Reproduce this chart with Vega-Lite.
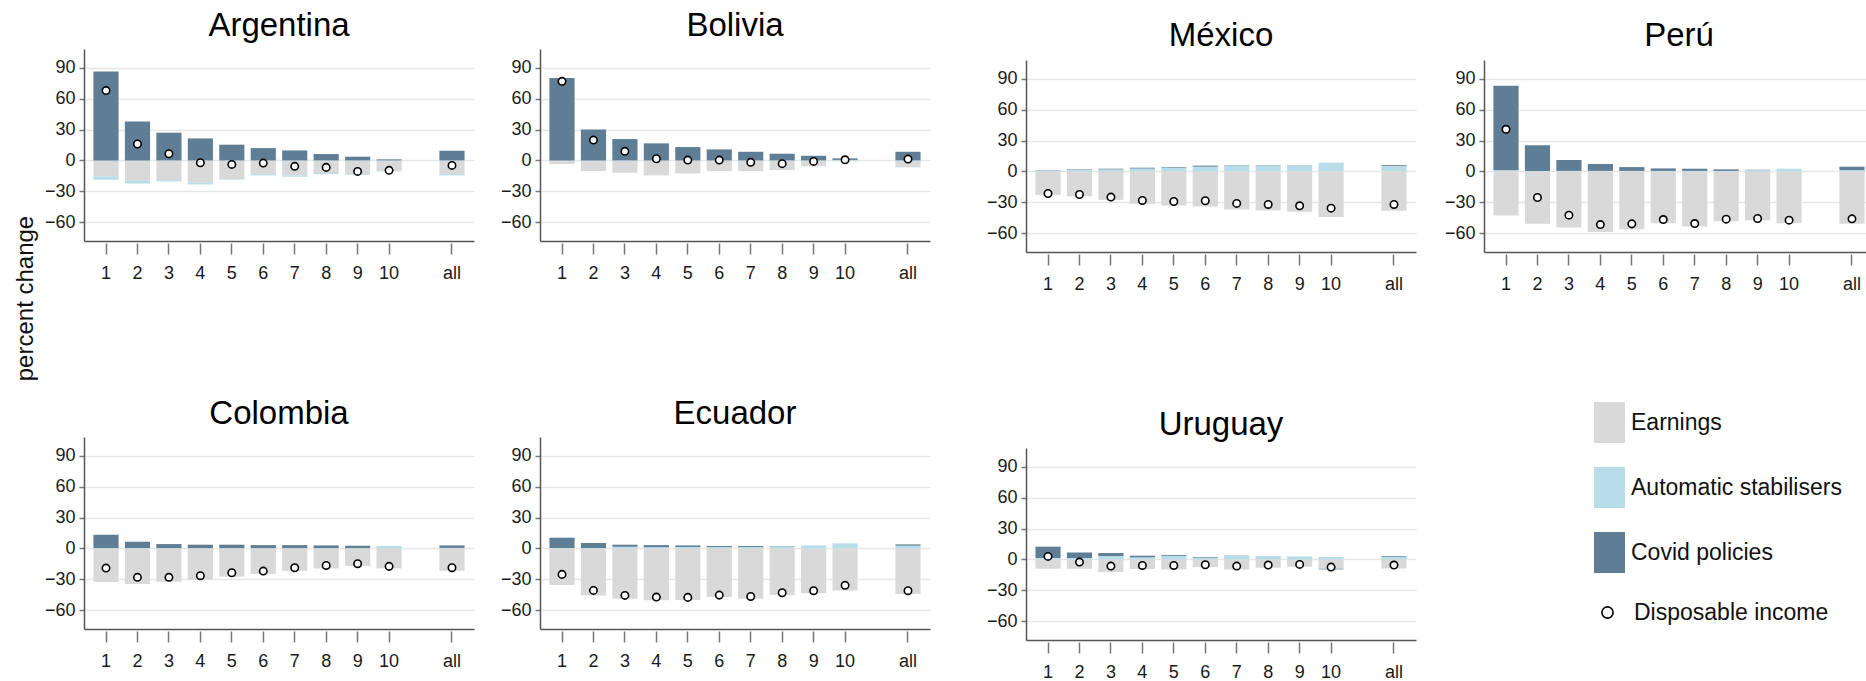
{
  "$schema": "https://vega.github.io/schema/vega-lite/v6.json",
  "padding": {"left": 14, "top": 10, "right": 0, "bottom": 0},
  "background": "white",
  "title": {"text": "percent change", "orient": "left", "anchor": "middle", "frame": "bounds", "fontSize": 24, "offset": 6, "dx": 47, "color": "#111"},
  "data": {"values": [
    {"country":"Argentina","decile":"1","earnings":-15.6,"stabilisers":-3.2,"stimulus":86.7,"income":68},
    {"country":"Argentina","decile":"2","earnings":-19.8,"stabilisers":-2.6,"stimulus":38,"income":16},
    {"country":"Argentina","decile":"3","earnings":-19.2,"stabilisers":-1.3,"stimulus":27,"income":6.5},
    {"country":"Argentina","decile":"4","earnings":-21.4,"stabilisers":-2,"stimulus":21.4,"income":-2.3},
    {"country":"Argentina","decile":"5","earnings":-18.2,"stabilisers":-0.6,"stimulus":15.3,"income":-3.9},
    {"country":"Argentina","decile":"6","earnings":-13.3,"stabilisers":-1.3,"stimulus":12,"income":-2.6},
    {"country":"Argentina","decile":"7","earnings":-14.6,"stabilisers":-1.3,"stimulus":9.7,"income":-5.8},
    {"country":"Argentina","decile":"8","earnings":-12.3,"stabilisers":-1,"stimulus":6.2,"income":-6.8},
    {"country":"Argentina","decile":"9","earnings":-13.3,"stabilisers":-0.7,"stimulus":3.6,"income":-10.7},
    {"country":"Argentina","decile":"10","earnings":-10.4,"stabilisers":-0.3,"stimulus":1,"income":-9.7},
    {"country":"Argentina","decile":"all","earnings":-13.3,"stabilisers":-1.3,"stimulus":9.4,"income":-4.9},
    {"country":"Bolivia","decile":"1","earnings":-3.6,"stabilisers":0,"stimulus":80.2,"income":77},
    {"country":"Bolivia","decile":"2","earnings":-10.4,"stabilisers":0,"stimulus":30.2,"income":19.8},
    {"country":"Bolivia","decile":"3","earnings":-12,"stabilisers":0,"stimulus":20.8,"income":8.8},
    {"country":"Bolivia","decile":"4","earnings":-14.6,"stabilisers":0,"stimulus":16.6,"income":1.6},
    {"country":"Bolivia","decile":"5","earnings":-12.7,"stabilisers":0,"stimulus":13,"income":0.3},
    {"country":"Bolivia","decile":"6","earnings":-10.4,"stabilisers":0,"stimulus":10.7,"income":0.3},
    {"country":"Bolivia","decile":"7","earnings":-10.4,"stabilisers":0,"stimulus":8.4,"income":-1.9},
    {"country":"Bolivia","decile":"8","earnings":-9.4,"stabilisers":0,"stimulus":6.5,"income":-3.2},
    {"country":"Bolivia","decile":"9","earnings":-5.8,"stabilisers":0,"stimulus":4.5,"income":-1},
    {"country":"Bolivia","decile":"10","earnings":-0.8,"stabilisers":0.5,"stimulus":1.5,"income":0.6},
    {"country":"Bolivia","decile":"all","earnings":-6.8,"stabilisers":0,"stimulus":8.4,"income":1.3},
    {"country":"México","decile":"1","earnings":-22.8,"stabilisers":1.0,"stimulus":0.3,"income":-21.5},
    {"country":"México","decile":"2","earnings":-24.1,"stabilisers":1.3,"stimulus":0.5,"income":-22.5},
    {"country":"México","decile":"3","earnings":-27.7,"stabilisers":2,"stimulus":0.6,"income":-25},
    {"country":"México","decile":"4","earnings":-31.6,"stabilisers":2.8,"stimulus":0.8,"income":-28.3},
    {"country":"México","decile":"5","earnings":-33.2,"stabilisers":3.6,"stimulus":0.6,"income":-29.3},
    {"country":"México","decile":"6","earnings":-34.2,"stabilisers":4.6,"stimulus":1,"income":-28.6},
    {"country":"México","decile":"7","earnings":-37.1,"stabilisers":5.5,"stimulus":0.4,"income":-31.2},
    {"country":"México","decile":"8","earnings":-38.1,"stabilisers":5.5,"stimulus":0.4,"income":-32.2},
    {"country":"México","decile":"9","earnings":-39.4,"stabilisers":5.6,"stimulus":0.3,"income":-33.5},
    {"country":"México","decile":"10","earnings":-44.3,"stabilisers":8.5,"stimulus":0,"income":-35.8},
    {"country":"México","decile":"all","earnings":-38.4,"stabilisers":5.4,"stimulus":0.8,"income":-32.2},
    {"country":"Perú","decile":"1","earnings":-43,"stabilisers":1,"stimulus":82.3,"income":41},
    {"country":"Perú","decile":"2","earnings":-51.1,"stabilisers":0.5,"stimulus":24.9,"income":-25.4},
    {"country":"Perú","decile":"3","earnings":-54.7,"stabilisers":0.5,"stimulus":10.6,"income":-42.6},
    {"country":"Perú","decile":"4","earnings":-58.9,"stabilisers":0.5,"stimulus":6.7,"income":-51.8},
    {"country":"Perú","decile":"5","earnings":-56.3,"stabilisers":0.5,"stimulus":3.7,"income":-51.1},
    {"country":"Perú","decile":"6","earnings":-50.5,"stabilisers":0.5,"stimulus":2.4,"income":-46.9},
    {"country":"Perú","decile":"7","earnings":-53.7,"stabilisers":0.5,"stimulus":2.1,"income":-50.8},
    {"country":"Perú","decile":"8","earnings":-48.5,"stabilisers":0.5,"stimulus":1.5,"income":-46.5},
    {"country":"Perú","decile":"9","earnings":-47.5,"stabilisers":1.3,"stimulus":0.3,"income":-45.9},
    {"country":"Perú","decile":"10","earnings":-50.5,"stabilisers":2.6,"stimulus":0,"income":-47.5},
    {"country":"Perú","decile":"all","earnings":-51.1,"stabilisers":1.3,"stimulus":3.3,"income":-46.2},
    {"country":"Colombia","decile":"1","earnings":-32.8,"stabilisers":0.3,"stimulus":13,"income":-19.2},
    {"country":"Colombia","decile":"2","earnings":-34.7,"stabilisers":0.3,"stimulus":6.2,"income":-28.2},
    {"country":"Colombia","decile":"3","earnings":-32.5,"stabilisers":0.3,"stimulus":3.9,"income":-28.2},
    {"country":"Colombia","decile":"4","earnings":-30.5,"stabilisers":0.3,"stimulus":3.3,"income":-26.6},
    {"country":"Colombia","decile":"5","earnings":-27.6,"stabilisers":0.3,"stimulus":3.3,"income":-23.7},
    {"country":"Colombia","decile":"6","earnings":-25,"stabilisers":0.3,"stimulus":2.9,"income":-22.1},
    {"country":"Colombia","decile":"7","earnings":-21.8,"stabilisers":0.3,"stimulus":2.9,"income":-18.8},
    {"country":"Colombia","decile":"8","earnings":-19.5,"stabilisers":0.3,"stimulus":2.6,"income":-16.6},
    {"country":"Colombia","decile":"9","earnings":-17.2,"stabilisers":0.3,"stimulus":2.3,"income":-14.9},
    {"country":"Colombia","decile":"10","earnings":-19.5,"stabilisers":2.3,"stimulus":0,"income":-17.5},
    {"country":"Colombia","decile":"all","earnings":-21.8,"stabilisers":0.5,"stimulus":2.4,"income":-18.8},
    {"country":"Ecuador","decile":"1","earnings":-35.7,"stabilisers":0.4,"stimulus":10,"income":-25.3},
    {"country":"Ecuador","decile":"2","earnings":-45.8,"stabilisers":0.4,"stimulus":4.8,"income":-40.9},
    {"country":"Ecuador","decile":"3","earnings":-49,"stabilisers":1.6,"stimulus":2,"income":-45.8},
    {"country":"Ecuador","decile":"4","earnings":-50.6,"stabilisers":1.2,"stimulus":2,"income":-47.4},
    {"country":"Ecuador","decile":"5","earnings":-50.3,"stabilisers":1.4,"stimulus":1.5,"income":-47.7},
    {"country":"Ecuador","decile":"6","earnings":-47.4,"stabilisers":1.3,"stimulus":1,"income":-45.5},
    {"country":"Ecuador","decile":"7","earnings":-49,"stabilisers":1.3,"stimulus":1,"income":-46.8},
    {"country":"Ecuador","decile":"8","earnings":-45.5,"stabilisers":2,"stimulus":0.3,"income":-43.2},
    {"country":"Ecuador","decile":"9","earnings":-43.8,"stabilisers":2.9,"stimulus":0,"income":-41.2},
    {"country":"Ecuador","decile":"10","earnings":-40.9,"stabilisers":4.9,"stimulus":0,"income":-36},
    {"country":"Ecuador","decile":"all","earnings":-44.5,"stabilisers":2.6,"stimulus":1.3,"income":-41.2},
    {"country":"Uruguay","decile":"1","earnings":-9.1,"stabilisers":1.4,"stimulus":11,"income":2.9},
    {"country":"Uruguay","decile":"2","earnings":-9.1,"stabilisers":1.3,"stimulus":5.5,"income":-2.6},
    {"country":"Uruguay","decile":"3","earnings":-12.4,"stabilisers":3.2,"stimulus":3,"income":-6.5},
    {"country":"Uruguay","decile":"4","earnings":-9.4,"stabilisers":2,"stimulus":1.6,"income":-5.9},
    {"country":"Uruguay","decile":"5","earnings":-9.8,"stabilisers":3.4,"stimulus":0.8,"income":-5.9},
    {"country":"Uruguay","decile":"6","earnings":-7.5,"stabilisers":1.7,"stimulus":0.6,"income":-5.2},
    {"country":"Uruguay","decile":"7","earnings":-9.8,"stabilisers":3.3,"stimulus":0.3,"income":-6.5},
    {"country":"Uruguay","decile":"8","earnings":-8.1,"stabilisers":3.3,"stimulus":0,"income":-5.5},
    {"country":"Uruguay","decile":"9","earnings":-7.2,"stabilisers":2.9,"stimulus":0,"income":-4.9},
    {"country":"Uruguay","decile":"10","earnings":-9.1,"stabilisers":2.3,"stimulus":-0.6,"income":-7.5},
    {"country":"Uruguay","decile":"all","earnings":-8.8,"stabilisers":2.6,"stimulus":0.7,"income":-5.5}
  ]},
  "spacing": 56,
  "hconcat": [
    {"spacing": 26, "hconcat": [
      {"spacing": 116, "vconcat": [
        {"title": "Argentina", "width": 390, "height": 192,
         "transform": [{"filter": "datum.country === 'Argentina'"}],
         "layer": [
          {"transform": [{"fold": ["earnings","stabilisers","stimulus"], "as": ["component","value"]}],
           "mark": {"type": "bar"},
           "encoding": {
            "x": {"field":"decile","type":"nominal","title":null,"scale":{"domain":["1","2","3","4","5","6","7","8","9","10","gap","all"],"paddingInner":0.2,"paddingOuter":0.3},"axis":{"values":["1","2","3","4","5","6","7","8","9","10","all"]}},
            "y": {"field":"value","type":"quantitative","title":null,"stack":"zero","scale":{"domain":[-78.5,108.5],"nice":false,"zero":false},"axis":{"values":[-60,-30,0,30,60,90]}},
            "fill": {"field":"component","type":"nominal","scale":{"domain":["earnings","stabilisers","stimulus"],"range":["#d9d9d9","#b8dde8","#5f7e95"]},
              "legend": {"orient":"none","legendX":1505,"legendY":353,"title":null,"symbolType":"M-0.756,-1H0.756V1H-0.756Z","symbolSize":1681,"symbolStrokeWidth":0,"labelFontSize":23,"labelOffset":1,"rowPadding":24,"labelLimit":400,"labelColor":"#111",
                "labelExpr":"datum.label == 'earnings' ? 'Earnings' : datum.label == 'stabilisers' ? 'Automatic stabilisers' : 'Covid policies'"}},
            "order": {"field":"component","type":"ordinal","sort":"ascending"}
           }},
          {"mark": {"type":"circle","fill":"white","size":55,"strokeWidth":1.6,"opacity":1},
           "encoding": {
            "x": {"field":"decile","type":"nominal","title":null,"scale":{"domain":["1","2","3","4","5","6","7","8","9","10","gap","all"],"paddingInner":0.2,"paddingOuter":0.3},"axis":{"values":["1","2","3","4","5","6","7","8","9","10","all"]}},
            "y": {"field":"income","type":"quantitative","title":null,"scale":{"domain":[-78.5,108.5],"nice":false,"zero":false},"axis":{"values":[-60,-30,0,30,60,90]}},
            "stroke": {"datum":"Disposable income","scale":{"range":["black"]},
              "legend": {"orient":"none","legendX":1512,"legendY":552,"title":null,"symbolType":"circle","symbolSize":125,"symbolStrokeWidth":1.6,"symbolFillColor":"white","labelFontSize":23,"labelOffset":15,"labelLimit":400,"labelColor":"#111"}}
           }}
         ]},
        {"title": "Colombia", "width": 390, "height": 192,
         "transform": [{"filter": "datum.country === 'Colombia'"}],
         "layer": [
          {"transform": [{"fold": ["earnings","stabilisers","stimulus"], "as": ["component","value"]}],
           "mark": {"type": "bar"},
           "encoding": {
            "x": {"field":"decile","type":"nominal","title":null,"scale":{"domain":["1","2","3","4","5","6","7","8","9","10","gap","all"],"paddingInner":0.2,"paddingOuter":0.3},"axis":{"values":["1","2","3","4","5","6","7","8","9","10","all"]}},
            "y": {"field":"value","type":"quantitative","title":null,"stack":"zero","scale":{"domain":[-78.5,108.5],"nice":false,"zero":false},"axis":{"values":[-60,-30,0,30,60,90]}},
            "fill": {"field":"component","type":"nominal","scale":{"domain":["earnings","stabilisers","stimulus"],"range":["#d9d9d9","#b8dde8","#5f7e95"]}},
            "order": {"field":"component","type":"ordinal","sort":"ascending"}
           }},
          {"mark": {"type":"circle","fill":"white","size":55,"strokeWidth":1.6,"opacity":1},
           "encoding": {
            "x": {"field":"decile","type":"nominal","title":null,"scale":{"domain":["1","2","3","4","5","6","7","8","9","10","gap","all"],"paddingInner":0.2,"paddingOuter":0.3},"axis":{"values":["1","2","3","4","5","6","7","8","9","10","all"]}},
            "y": {"field":"income","type":"quantitative","title":null,"scale":{"domain":[-78.5,108.5],"nice":false,"zero":false},"axis":{"values":[-60,-30,0,30,60,90]}},
            "stroke": {"datum":"Disposable income","scale":{"range":["black"]}}
           }}
         ]}
      ]},
      {"spacing": 116, "vconcat": [
        {"title": "Bolivia", "width": 390, "height": 192,
         "transform": [{"filter": "datum.country === 'Bolivia'"}],
         "layer": [
          {"transform": [{"fold": ["earnings","stabilisers","stimulus"], "as": ["component","value"]}],
           "mark": {"type": "bar"},
           "encoding": {
            "x": {"field":"decile","type":"nominal","title":null,"scale":{"domain":["1","2","3","4","5","6","7","8","9","10","gap","all"],"paddingInner":0.2,"paddingOuter":0.3},"axis":{"values":["1","2","3","4","5","6","7","8","9","10","all"]}},
            "y": {"field":"value","type":"quantitative","title":null,"stack":"zero","scale":{"domain":[-78.5,108.5],"nice":false,"zero":false},"axis":{"values":[-60,-30,0,30,60,90]}},
            "fill": {"field":"component","type":"nominal","scale":{"domain":["earnings","stabilisers","stimulus"],"range":["#d9d9d9","#b8dde8","#5f7e95"]}},
            "order": {"field":"component","type":"ordinal","sort":"ascending"}
           }},
          {"mark": {"type":"circle","fill":"white","size":55,"strokeWidth":1.6,"opacity":1},
           "encoding": {
            "x": {"field":"decile","type":"nominal","title":null,"scale":{"domain":["1","2","3","4","5","6","7","8","9","10","gap","all"],"paddingInner":0.2,"paddingOuter":0.3},"axis":{"values":["1","2","3","4","5","6","7","8","9","10","all"]}},
            "y": {"field":"income","type":"quantitative","title":null,"scale":{"domain":[-78.5,108.5],"nice":false,"zero":false},"axis":{"values":[-60,-30,0,30,60,90]}},
            "stroke": {"datum":"Disposable income","scale":{"range":["black"]}}
           }}
         ]},
        {"title": "Ecuador", "width": 390, "height": 192,
         "transform": [{"filter": "datum.country === 'Ecuador'"}],
         "layer": [
          {"transform": [{"fold": ["earnings","stabilisers","stimulus"], "as": ["component","value"]}],
           "mark": {"type": "bar"},
           "encoding": {
            "x": {"field":"decile","type":"nominal","title":null,"scale":{"domain":["1","2","3","4","5","6","7","8","9","10","gap","all"],"paddingInner":0.2,"paddingOuter":0.3},"axis":{"values":["1","2","3","4","5","6","7","8","9","10","all"]}},
            "y": {"field":"value","type":"quantitative","title":null,"stack":"zero","scale":{"domain":[-78.5,108.5],"nice":false,"zero":false},"axis":{"values":[-60,-30,0,30,60,90]}},
            "fill": {"field":"component","type":"nominal","scale":{"domain":["earnings","stabilisers","stimulus"],"range":["#d9d9d9","#b8dde8","#5f7e95"]}},
            "order": {"field":"component","type":"ordinal","sort":"ascending"}
           }},
          {"mark": {"type":"circle","fill":"white","size":55,"strokeWidth":1.6,"opacity":1},
           "encoding": {
            "x": {"field":"decile","type":"nominal","title":null,"scale":{"domain":["1","2","3","4","5","6","7","8","9","10","gap","all"],"paddingInner":0.2,"paddingOuter":0.3},"axis":{"values":["1","2","3","4","5","6","7","8","9","10","all"]}},
            "y": {"field":"income","type":"quantitative","title":null,"scale":{"domain":[-78.5,108.5],"nice":false,"zero":false},"axis":{"values":[-60,-30,0,30,60,90]}},
            "stroke": {"datum":"Disposable income","scale":{"range":["black"]}}
           }}
         ]}
      ]}
    ]},
    {"spacing": 28, "hconcat": [
      {"spacing": 116, "vconcat": [
        {"spacing": 0, "vconcat": [
          {"width": 390, "height": 11, "data": {"values": []}, "mark": "point", "encoding": {}, "title": {"text": "México", "offset": -4}},
          {"width": 390, "height": 192,
           "transform": [{"filter": "datum.country === 'México'"}],
           "layer": [
            {"transform": [{"fold": ["earnings","stabilisers","stimulus"], "as": ["component","value"]}],
             "mark": {"type": "bar"},
             "encoding": {
              "x": {"field":"decile","type":"nominal","title":null,"scale":{"domain":["1","2","3","4","5","6","7","8","9","10","gap","all"],"paddingInner":0.2,"paddingOuter":0.3},"axis":{"values":["1","2","3","4","5","6","7","8","9","10","all"]}},
              "y": {"field":"value","type":"quantitative","title":null,"stack":"zero","scale":{"domain":[-78.5,108.5],"nice":false,"zero":false},"axis":{"values":[-60,-30,0,30,60,90]}},
              "fill": {"field":"component","type":"nominal","scale":{"domain":["earnings","stabilisers","stimulus"],"range":["#d9d9d9","#b8dde8","#5f7e95"]}},
              "order": {"field":"component","type":"ordinal","sort":"ascending"}
             }},
            {"mark": {"type":"circle","fill":"white","size":55,"strokeWidth":1.6,"opacity":1},
             "encoding": {
              "x": {"field":"decile","type":"nominal","title":null,"scale":{"domain":["1","2","3","4","5","6","7","8","9","10","gap","all"],"paddingInner":0.2,"paddingOuter":0.3},"axis":{"values":["1","2","3","4","5","6","7","8","9","10","all"]}},
              "y": {"field":"income","type":"quantitative","title":null,"scale":{"domain":[-78.5,108.5],"nice":false,"zero":false},"axis":{"values":[-60,-30,0,30,60,90]}},
              "stroke": {"datum":"Disposable income","scale":{"range":["black"]}}
             }}
           ]}
        ]},
        {"title": "Uruguay", "width": 390, "height": 192,
         "transform": [{"filter": "datum.country === 'Uruguay'"}],
         "layer": [
          {"transform": [{"fold": ["earnings","stabilisers","stimulus"], "as": ["component","value"]}],
           "mark": {"type": "bar"},
           "encoding": {
            "x": {"field":"decile","type":"nominal","title":null,"scale":{"domain":["1","2","3","4","5","6","7","8","9","10","gap","all"],"paddingInner":0.2,"paddingOuter":0.3},"axis":{"values":["1","2","3","4","5","6","7","8","9","10","all"]}},
            "y": {"field":"value","type":"quantitative","title":null,"stack":"zero","scale":{"domain":[-78.5,108.5],"nice":false,"zero":false},"axis":{"values":[-60,-30,0,30,60,90]}},
            "fill": {"field":"component","type":"nominal","scale":{"domain":["earnings","stabilisers","stimulus"],"range":["#d9d9d9","#b8dde8","#5f7e95"]}},
            "order": {"field":"component","type":"ordinal","sort":"ascending"}
           }},
          {"mark": {"type":"circle","fill":"white","size":55,"strokeWidth":1.6,"opacity":1},
           "encoding": {
            "x": {"field":"decile","type":"nominal","title":null,"scale":{"domain":["1","2","3","4","5","6","7","8","9","10","gap","all"],"paddingInner":0.2,"paddingOuter":0.3},"axis":{"values":["1","2","3","4","5","6","7","8","9","10","all"]}},
            "y": {"field":"income","type":"quantitative","title":null,"scale":{"domain":[-78.5,108.5],"nice":false,"zero":false},"axis":{"values":[-60,-30,0,30,60,90]}},
            "stroke": {"datum":"Disposable income","scale":{"range":["black"]}}
           }}
         ]}
      ]},
      {"spacing": 0, "vconcat": [
        {"width": 390, "height": 11, "data": {"values": []}, "mark": "point", "encoding": {}, "title": {"text": "Perú", "offset": -4}},
        {"width": 390, "height": 192,
         "transform": [{"filter": "datum.country === 'Perú'"}],
         "layer": [
          {"transform": [{"fold": ["earnings","stabilisers","stimulus"], "as": ["component","value"]}],
           "mark": {"type": "bar"},
           "encoding": {
            "x": {"field":"decile","type":"nominal","title":null,"scale":{"domain":["1","2","3","4","5","6","7","8","9","10","gap","all"],"paddingInner":0.2,"paddingOuter":0.3},"axis":{"values":["1","2","3","4","5","6","7","8","9","10","all"]}},
            "y": {"field":"value","type":"quantitative","title":null,"stack":"zero","scale":{"domain":[-78.5,108.5],"nice":false,"zero":false},"axis":{"values":[-60,-30,0,30,60,90]}},
            "fill": {"field":"component","type":"nominal","scale":{"domain":["earnings","stabilisers","stimulus"],"range":["#d9d9d9","#b8dde8","#5f7e95"]}},
            "order": {"field":"component","type":"ordinal","sort":"ascending"}
           }},
          {"mark": {"type":"circle","fill":"white","size":55,"strokeWidth":1.6,"opacity":1},
           "encoding": {
            "x": {"field":"decile","type":"nominal","title":null,"scale":{"domain":["1","2","3","4","5","6","7","8","9","10","gap","all"],"paddingInner":0.2,"paddingOuter":0.3},"axis":{"values":["1","2","3","4","5","6","7","8","9","10","all"]}},
            "y": {"field":"income","type":"quantitative","title":null,"scale":{"domain":[-78.5,108.5],"nice":false,"zero":false},"axis":{"values":[-60,-30,0,30,60,90]}},
            "stroke": {"datum":"Disposable income","scale":{"range":["black"]}}
           }}
         ]}
      ]}
    ]}
  ],
  "config": {
    "font": "Liberation Sans",
    "view": {"stroke": null},
    "title": {"fontSize": 33, "fontWeight": "normal", "color": "#000", "offset": 6, "frame": "group"},
    "axis": {"labelFontSize": 18, "labelColor": "#1a1a1a", "labelFont": "Liberation Sans", "domainColor": "#555", "domainWidth": 1.5, "tickColor": "#777", "tickWidth": 1.5, "labelOverlap": false},
    "axisX": {"grid": false, "labelAngle": 0, "tickSize": 13, "tickDash": [0, 2, 11, 40], "labelPadding": 10},
    "axisY": {"grid": true, "gridColor": "#e6e6e6", "gridWidth": 1.5, "tickSize": 5, "labelPadding": 4},
    "legend": {"labelFont": "Liberation Sans"}
  }
}
